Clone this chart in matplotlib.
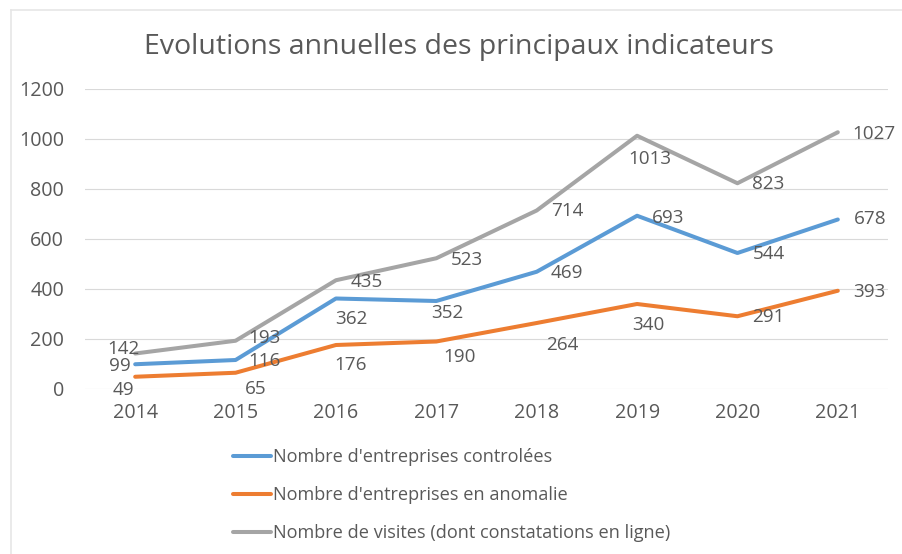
import matplotlib
matplotlib.use('Agg')
import matplotlib.pyplot as plt
from matplotlib.lines import Line2D

plt.rcParams['font.family'] = ['Open Sans', 'DejaVu Sans']

# data
years = ['2014', '2015', '2016', '2017', '2018', '2019', '2020', '2021']
controlees = [99, 116, 362, 352, 469, 693, 544, 678]
anomalie = [49, 65, 176, 190, 264, 340, 291, 393]
visites = [142, 193, 435, 523, 714, 1013, 823, 1027]
labels = ["Nombre d'entreprises controlées",
          "Nombre d'entreprises en anomalie",
          "Nombre de visites (dont constatations en ligne)"]
yticks = [0, 200, 400, 600, 800, 1000, 1200]

# label offsets (pixels) from each point, like the excel placement
off_controlees = [(-15, -2), (29, -1), (15, -20), (11, -12), (30, -1), (31, -2), (31, -1), (32, 0)]
off_anomalie = [(-12, -13), (20, -16), (15, -20), (23, -15), (26, -22), (11, -21), (31, -1), (32, -1)]
off_visites = [(-12, 4), (29, 3), (31, -2), (31, -2), (31, 0), (13, -23), (31, -1), (36, -2)]

W, H = 902, 554
txt = '#595959'
colors = ['#5B9BD5', '#ED7D31', '#A5A5A5']

fig = plt.figure(figsize=(W / 100, H / 100), dpi=100)
ax = fig.add_axes([85 / W, (H - 389) / H, 803 / W, 300 / H])

x = range(len(years))
series = [controlees, anomalie, visites]
offsets = [off_controlees, off_anomalie, off_visites]
for vals, c, lab in zip(series, colors, labels):
    ax.plot(x, vals, color=c, lw=2.9, label=lab, solid_capstyle='round', zorder=3)
for vals, offs in zip(series, offsets):
    for i, v in enumerate(vals):
        ax.annotate(str(v), (i, v), xytext=offs[i], textcoords='offset pixels',
                    ha='center', va='center', fontsize=13.6, color=txt, zorder=4)

ax.set_xlim(-0.5, len(years) - 0.5)
ax.set_ylim(0, 1200)
ax.set_yticks(yticks)
ax.set_xticks(list(x))
ax.set_xticklabels(years)
ax.grid(axis='y', color='#D9D9D9', lw=0.8)
ax.set_axisbelow(True)
for s in ax.spines.values():
    s.set_visible(False)
ax.tick_params(length=0, colors=txt, labelsize=14.2)
ax.tick_params(axis='y', pad=15)
ax.tick_params(axis='x', pad=10)

fig.text(459 / W, 1 - 47 / H, 'Evolutions annuelles des principaux indicateurs',
         ha='center', va='center', fontsize=20.5, color=txt)

fig.legend(loc='center left', bbox_to_anchor=(233 / W, 1 - 495 / H), frameon=False,
           fontsize=13.1, labelcolor=txt, handlelength=2.1, handletextpad=0.12,
           labelspacing=1.1, borderpad=0, borderaxespad=0)

# thin frame of the pasted chart
fig.add_artist(Line2D([11 / W, 11 / W], [0, 1 - 10 / H], color='#E6E6E6', lw=1.2))
fig.add_artist(Line2D([11 / W, 1], [1 - 10 / H, 1 - 10 / H], color='#E6E6E6', lw=1.2))

fig.savefig('out.png', dpi=100, facecolor='white')
